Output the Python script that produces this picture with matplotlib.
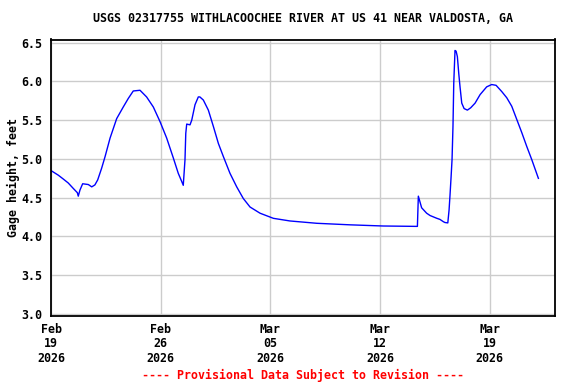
import numpy as np
import pandas as pd
import matplotlib
matplotlib.use("Agg")
import matplotlib.pyplot as plt

# gage height readings, days after 2026-02-19 00:00
days = [0.00, 0.47, 0.79, 1.10, 1.42, 1.68, 1.74, 1.85, 2.02, 2.38, 2.60, 2.80,
        2.98, 3.23, 3.45, 3.77, 4.19, 4.61, 4.93, 5.25, 5.68, 6.10, 6.53, 6.96,
        7.38, 7.81, 8.12, 8.34, 8.44, 8.55, 8.60, 8.66, 8.87, 8.98, 9.19, 9.40,
        9.50, 9.72, 10.04, 10.36, 10.68, 11.00, 11.42, 11.85, 12.27, 12.70, 13.34,
        14.19, 15.25, 16.96, 19.10, 21.20, 23.38, 23.44, 23.65, 23.97, 24.19,
        24.61, 24.82, 25.04, 25.14, 25.32, 25.40, 25.46, 25.53, 25.59, 25.65,
        25.70, 25.78, 25.85, 25.93, 26.02, 26.10, 26.21, 26.36, 26.57, 26.78,
        27.06, 27.38, 27.80, 28.12, 28.40, 28.76, 29.08, 29.40, 29.72, 30.04,
        30.36, 30.68, 31.10]
gage = [4.85, 4.79, 4.74, 4.69, 4.62, 4.565, 4.52, 4.60, 4.68, 4.67, 4.64, 4.665,
        4.73, 4.88, 5.03, 5.27, 5.52, 5.67, 5.78, 5.877, 5.886, 5.80, 5.67, 5.48,
        5.27, 5.01, 4.815, 4.71, 4.66, 4.99, 5.33, 5.45, 5.44, 5.50, 5.70, 5.80,
        5.80, 5.76, 5.63, 5.42, 5.20, 5.03, 4.815, 4.64, 4.49, 4.38, 4.30,
        4.234, 4.20, 4.17, 4.15, 4.135, 4.13, 4.52, 4.37, 4.30, 4.27,
        4.235, 4.22, 4.19, 4.18, 4.175, 4.34, 4.53, 4.77, 4.99, 5.42,
        5.98, 6.40, 6.39, 6.32, 6.10, 5.93, 5.72, 5.65, 5.63, 5.66,
        5.72, 5.83, 5.93, 5.96, 5.95, 5.87, 5.79, 5.68, 5.51, 5.34,
        5.16, 4.99, 4.75]

start = pd.Timestamp("2026-02-19")
t = start + pd.to_timedelta(days, unit="D")

fnt = dict(family="DejaVu Sans Mono", weight="bold", size=8.4)

fig = plt.figure(figsize=(5.76, 3.84), dpi=100)
ax = fig.add_axes([51/576, 1 - 316/384, 504/576, 276.5/384])

ax.plot(t, gage, color="#0000ff", lw=1.0)

ax.set_xlim(start, start + pd.Timedelta(days=32.16))
ax.set_ylim(2.974, 6.541)
yt = np.arange(3.0, 6.51, 0.5)
ax.set_yticks(yt)
ax.set_yticklabels(["%.1f" % v for v in yt], **fnt)
xt = [start + pd.Timedelta(days=7 * i) for i in range(5)]
ax.set_xticks(xt)
ax.set_xticklabels([d.strftime("%b\n%d\n%Y") for d in xt], linespacing=1.15, **fnt)
ax.tick_params(length=0)
ax.tick_params(axis="y", pad=6)
ax.tick_params(axis="x", pad=5)
ax.grid(color="#cccccc", lw=1.0)
ax.set_axisbelow(True)
for s in ax.spines.values():
    s.set_linewidth(1.3)

ax.set_ylabel("Gage height, feet", labelpad=1, **fnt)
fig.text(303/576, 1 - 19/384, "USGS 02317755 WITHLACOOCHEE RIVER AT US 41 NEAR VALDOSTA, GA",
         ha="center", va="center", **fnt)
fig.text(303/576, 1 - 375/384, "---- Provisional Data Subject to Revision ----",
         ha="center", va="center", color="#ff0000", **fnt)

fig.savefig("out.png", dpi=100)
